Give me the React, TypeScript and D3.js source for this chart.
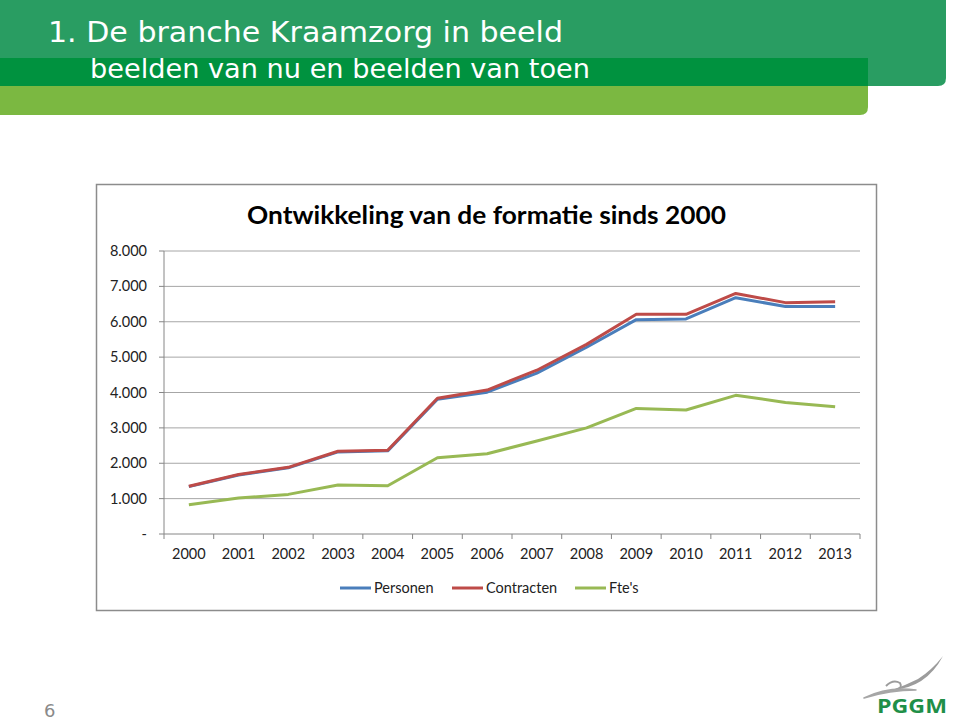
import React from "react";
import * as d3 from "d3";

const years = ["2000","2001","2002","2003","2004","2005","2006","2007","2008","2009","2010","2011","2012","2013"];
const personen = [1340, 1670, 1870, 2320, 2350, 3810, 4010, 4550, 5280, 6060, 6080, 6680, 6430, 6430];
const contracten = [1350, 1680, 1885, 2340, 2365, 3835, 4070, 4630, 5360, 6210, 6210, 6800, 6540, 6565];
const ftes = [830, 1015, 1120, 1385, 1365, 2155, 2270, 2630, 3000, 3550, 3505, 3920, 3720, 3600];
const yTicks = [0, 1000, 2000, 3000, 4000, 5000, 6000, 7000, 8000];
const seriesNames = ["Personen", "Contracten", "Fte's"];
const seriesColors = ["#4a7ebb", "#be4b48", "#98b954"];

const locale = d3.formatLocale({ decimal: ",", thousands: ".", grouping: [3], currency: ["€", ""] });
const fmtY = (v: number) => (v === 0 ? "-" : locale.format(",")(v));

export default function App() {
  const x = d3.scaleBand<string>().domain(years).range([164, 860]).padding(0);
  const y = d3.scaleLinear().domain([0, 8000]).range([534, 251]);
  const line = d3
    .line<number>()
    .x((_, i) => (x(years[i]) as number) + x.bandwidth() / 2)
    .y((d) => y(d));
  const data = [personen, contracten, ftes];
  const font = "Lato, 'Open Sans', sans-serif";
  const legendX = [340, 452, 575];

  return (
    <svg width={960} height={728} style={{ position: "absolute", left: 0, top: 0 }}>
      <rect x={0} y={0} width={960} height={728} fill="#ffffff" />
      {/* header */}
      <path d="M0,0 H946 V78 Q946,86 938,86 H0 Z" fill="#299d62" />
      <path d="M0,86 H868 V107 Q868,115 860,115 H0 Z" fill="#7bb841" />
      <rect x={0} y={58} width={868} height={28} fill="#00923f" />
      <text x={48} y={42} fill="#ffffff" fontFamily="'DejaVu Sans', Verdana, sans-serif" fontSize={29} textLength={515} lengthAdjust="spacingAndGlyphs">
        1. De branche Kraamzorg in beeld
      </text>
      <text x={90} y={78} fill="#ffffff" fontFamily="'DejaVu Sans', Verdana, sans-serif" fontSize={27} textLength={500} lengthAdjust="spacingAndGlyphs">
        beelden van nu en beelden van toen
      </text>

      {/* chart frame */}
      <rect x={96.5} y={184.5} width={780} height={426} fill="#ffffff" stroke="#8c8c8c" strokeWidth={1.5} />
      <text x={247} y={224} fontFamily={font} fontWeight="bold" fontSize={25} fill="#000" textLength={479} lengthAdjust="spacingAndGlyphs">
        Ontwikkeling van de formatie sinds 2000
      </text>

      {/* gridlines & y axis */}
      {yTicks.map((t) => (
        <g key={t}>
          {t > 0 && <line x1={164} x2={860} y1={y(t)} y2={y(t)} stroke="#a6a6a6" strokeWidth={1} />}
          <line x1={159} x2={164} y1={y(t)} y2={y(t)} stroke="#868686" />
          <text x={147} y={y(t) + 5} textAnchor="end" fontFamily={font} fontSize={14.5} fill="#222">
            {fmtY(t)}
          </text>
        </g>
      ))}
      <line x1={164} x2={164} y1={251} y2={534} stroke="#868686" />
      <line x1={164} x2={860} y1={534} y2={534} stroke="#868686" />
      {years.map((yr) => (
        <g key={yr}>
          <line x1={x(yr)} x2={x(yr)} y1={534} y2={539} stroke="#868686" />
          <text x={(x(yr) as number) + x.bandwidth() / 2} y={559} textAnchor="middle" fontFamily={font} fontSize={14.5} fill="#222">
            {yr}
          </text>
        </g>
      ))}
      <line x1={860} x2={860} y1={534} y2={539} stroke="#868686" />

      {/* lines */}
      {data.map((s, i) => (
        <path key={i} d={line(s) as string} fill="none" stroke={seriesColors[i]} strokeWidth={3} strokeLinejoin="round" />
      ))}

      {/* legend */}
      {seriesNames.map((n, i) => (
        <g key={n}>
          <line x1={legendX[i]} x2={legendX[i] + 31} y1={588} y2={588} stroke={seriesColors[i]} strokeWidth={3} />
          <text x={legendX[i] + 34} y={593} fontFamily={font} fontSize={14.5} fill="#222">
            {n}
          </text>
        </g>
      ))}

      {/* page number */}
      <text x={44} y={717} fontFamily="'DejaVu Sans', sans-serif" fontSize={18} fill="#8a8a8a">6</text>

      {/* logo */}
      <path d="M892,690 Q926,688 943,656 Q932,670 918,679 Q906,685 892,690 Z" fill="#9c9c9c" />
      <path d="M886,686 Q893,679 900,683 Q903,688 896,690" fill="none" stroke="#9c9c9c" strokeWidth={2} />
      <path d="M864,698 Q888,686 916,690 Q890,690 864,698 Z" fill="#a6a6a6" stroke="#a6a6a6" strokeWidth={1.5} strokeLinejoin="round" />
      <text x={877} y={713} fontFamily="'Open Sans', sans-serif" fontWeight="bold" fontSize={19} fill="#1f8f48" textLength={70} lengthAdjust="spacingAndGlyphs">
        PGGM
      </text>
    </svg>
  );
}
